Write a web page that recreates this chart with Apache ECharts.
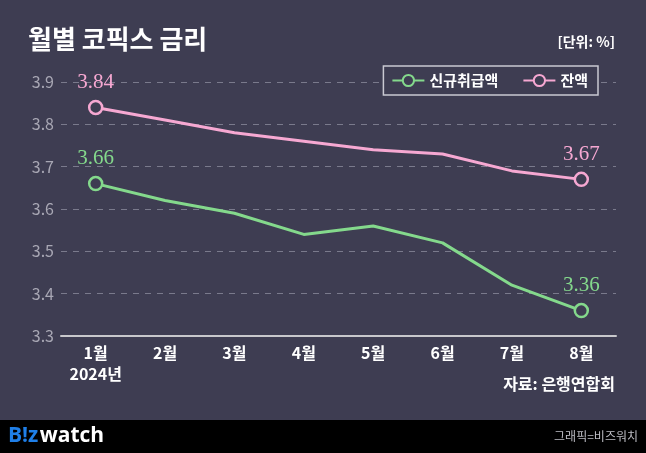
<!DOCTYPE html>
<html>
<head>
<meta charset="utf-8">
<script src="https://cdn.jsdelivr.net/npm/echarts@6/dist/echarts.min.js"></script>
<style>
html,body{margin:0;padding:0;background:#3e3d52;}
#c{width:646px;height:453px;}
</style>
</head>
<body>
<div id="c"></div>
<script>
const categories = ['1월','2월','3월','4월','5월','6월','7월','8월'];
const newLoans = [3.66, 3.62, 3.59, 3.54, 3.56, 3.52, 3.42, 3.36];
const balance = [3.84, 3.81, 3.78, 3.76, 3.74, 3.73, 3.69, 3.67];
const yTicks = [3.3, 3.4, 3.5, 3.6, 3.7, 3.8, 3.9];
const seriesNames = ['신규취급액', '잔액'];

const BG = '#3e3d52';
const GREEN = '#84d98c';
const PINK = '#f6a8d2';
const KR = '"Noto Sans CJK KR", "Noto Sans", sans-serif';

function buildData(arr, color) {
  return arr.map((v, i) => {
    const edge = i === 0 || i === arr.length - 1;
    return {
      value: v,
      symbol: edge ? 'circle' : 'none',
      label: {
        show: edge,
        position: 'top',
        distance: 7,
        formatter: p => p.value.toFixed(2),
        color: color,
        fontFamily: '"Liberation Serif", "DejaVu Serif", serif',
        fontSize: 21
      }
    };
  });
}

const chart = echarts.init(document.getElementById('c'), null, {renderer: 'canvas'});
chart.setOption({
  backgroundColor: BG,
  animation: false,
  grid: {left: 61, right: 30, top: 82, bottom: 117},
  legend: {
    right: 48, top: 66,
    padding: [7, 10, 7, 8],
    borderColor: '#c9c9d2', borderWidth: 1.5,
    backgroundColor: BG,
    itemWidth: 32, itemHeight: 14, itemGap: 24,
    data: seriesNames,
    textStyle: {color: '#ffffff', fontSize: 15, fontWeight: 'bold', fontFamily: KR}
  },
  xAxis: {
    type: 'category',
    data: categories,
    boundaryGap: true,
    axisLine: {lineStyle: {color: '#c8c8cc', width: 2}},
    axisTick: {inside: true, alignWithLabel: true, length: 8, lineStyle: {color: '#c8c8cc', width: 1}},
    axisLabel: {
      color: '#ffffff', fontSize: 16, fontWeight: 'bold', fontFamily: KR, margin: 6, lineHeight: 21,
      formatter: (v, i) => i === 0 ? v + '\n2024년' : v
    }
  },
  yAxis: {
    type: 'value',
    min: yTicks[0], max: yTicks[yTicks.length - 1], interval: 0.1,
    axisLine: {show: false},
    axisTick: {show: false},
    axisLabel: {color: '#a8a7b4', fontSize: 16, fontFamily: KR, margin: 7, formatter: v => v.toFixed(1)},
    splitLine: {lineStyle: {color: '#7a7a8c', type: [6, 6], width: 1}}
  },
  series: [
    {
      name: seriesNames[0], type: 'line', data: buildData(newLoans, GREEN),
      symbol: 'circle', symbolSize: 13, showSymbol: true,
      lineStyle: {color: GREEN, width: 3},
      itemStyle: {color: BG, borderColor: GREEN, borderWidth: 2.5},
      z: 3
    },
    {
      name: seriesNames[1], type: 'line', data: buildData(balance, PINK),
      symbol: 'circle', symbolSize: 13, showSymbol: true,
      lineStyle: {color: PINK, width: 3},
      itemStyle: {color: BG, borderColor: PINK, borderWidth: 2.5},
      z: 3
    }
  ],
  graphic: [
    {type: 'text', left: 28, top: 26, style: {text: '월별 코픽스 금리', fill: '#ffffff', font: 'bold 26px ' + KR}},
    {type: 'text', right: 31, top: 35, style: {text: '[단위: %]', fill: '#ffffff', font: 'bold 14px ' + KR}},
    {type: 'text', right: 31, top: 376, style: {text: '자료: 은행연합회', fill: '#ffffff', font: 'bold 16px ' + KR}},
    {type: 'rect', left: 0, top: 420, shape: {width: 646, height: 33}, style: {fill: '#000000'}},
    {type: 'text', left: 8, top: 426, style: {
      text: '{b|B!z}{s| }{w|watch}',
      rich: {
        b: {fill: '#1f7fe8', font: 'bold 21px "Open Sans", sans-serif'},
        s: {font: '5px sans-serif'},
        w: {fill: '#ffffff', font: 'bold 21px "Open Sans", sans-serif'}
      }
    }},
    {type: 'text', right: 8, top: 430, style: {text: '그래픽=비즈워치', fill: '#bdbdc4', font: '12px ' + KR}}
  ]
});
</script>
</body>
</html>
